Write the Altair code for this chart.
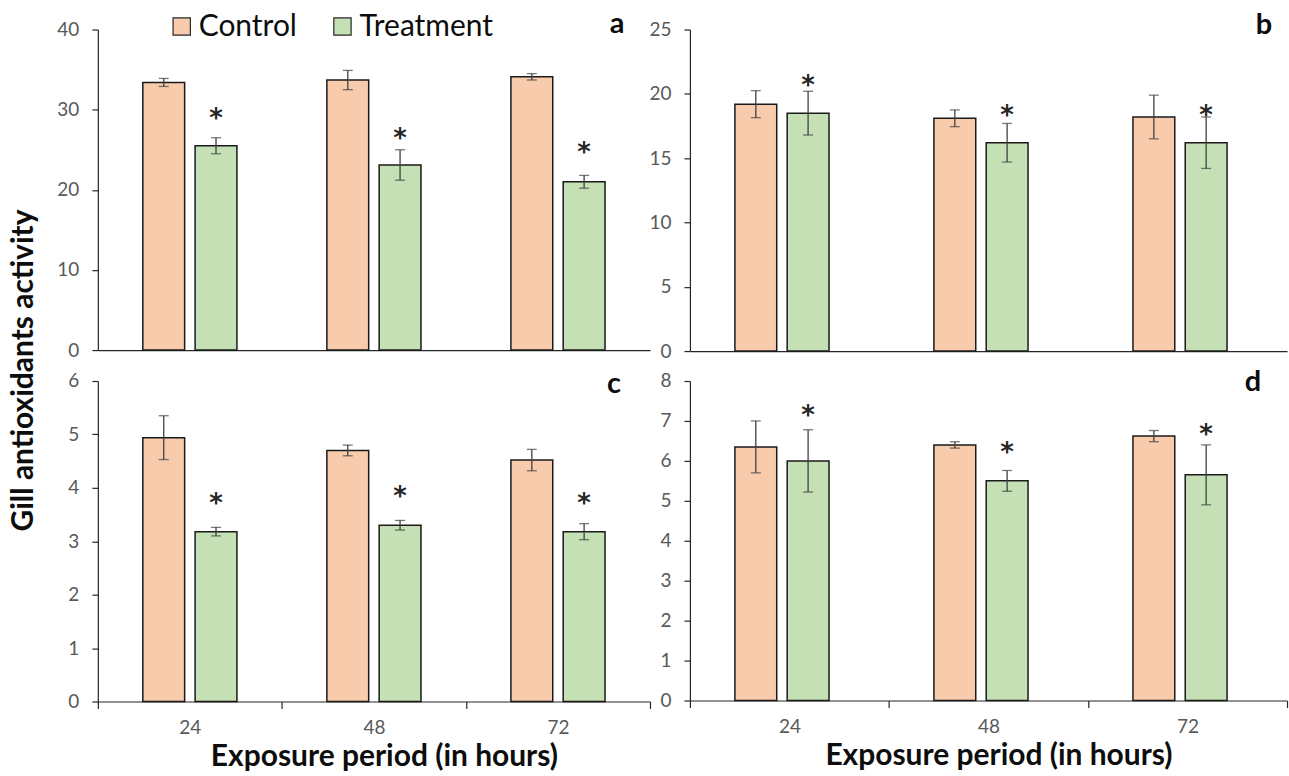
import altair as alt
import pandas as pd

hours = ["24", "48", "72"]
groups = ["Control", "Treatment"]
colors = ["#F8CBAD", "#C5E0B4"]

# panel a
a_ctrl = [33.4, 33.7, 34.1]
a_ctrl_sd = [0.5, 1.2, 0.4]
a_trt = [25.5, 23.1, 21.0]
a_trt_sd = [1.0, 1.9, 0.8]
a_star = [29.5, 27.0, 25.2]
# panel b
b_ctrl = [19.2, 18.1, 18.2]
b_ctrl_sd = [1.05, 0.65, 1.7]
b_trt = [18.5, 16.2, 16.2]
b_trt_sd = [1.7, 1.5, 2.0]
b_star = [21.0, 18.7, 18.7]
# panel c
c_ctrl = [4.94, 4.70, 4.52]
c_ctrl_sd = [0.41, 0.10, 0.20]
c_trt = [3.18, 3.30, 3.18]
c_trt_sd = [0.08, 0.09, 0.15]
c_star = [3.8, 3.92, 3.8]
# panel d
d_ctrl = [6.35, 6.40, 6.62]
d_ctrl_sd = [0.65, 0.08, 0.14]
d_trt = [6.00, 5.50, 5.65]
d_trt_sd = [0.78, 0.26, 0.75]
d_star = [7.26, 6.31, 6.78]

FONT = "Lato"


def panel(ctrl, ctrl_sd, trt, trt_sd, star, ymax, ystep, label, bottom,
          width, height, label_x, label_y, legend=False, ytitle=False):
    df = pd.DataFrame({
        "hour": hours * 2,
        "group": ["Control"] * 3 + ["Treatment"] * 3,
        "value": ctrl + trt,
        "sd": ctrl_sd + trt_sd,
    })
    df["lo"] = df["value"] - df["sd"]
    df["hi"] = df["value"] + df["sd"]
    sdf = pd.DataFrame({"hour": hours, "group": ["Treatment"] * 3, "y": star})

    xaxis_kw = dict(labels=bottom, ticks=bottom, tickBand="extent", tickSize=7,
                    labelAngle=0, labelPadding=10, domainColor="#262626",
                    domainWidth=1.2, tickColor="#262626", tickWidth=1.2,
                    labelFont=FONT, labelFontSize=19, labelColor="#595959")
    if bottom:
        xaxis_kw.update(title="Exposure period (in hours)", titleFontSize=30,
                        titlePadding=4, titleFont=FONT, titleFontWeight="bold",
                        titleColor="#0d0d0d", titleX=width / 2 + 10)
    else:
        xaxis_kw.update(title=None)
    x = alt.X("hour:N", sort=hours,
              scale=alt.Scale(paddingInner=0, paddingOuter=0),
              axis=alt.Axis(**xaxis_kw))
    xo = alt.XOffset("group:N", sort=groups,
                     scale=alt.Scale(domain=groups, paddingInner=0.2, paddingOuter=0.86))

    yaxis_kw = dict(values=list(range(0, ymax + 1, ystep)), format="d", grid=False,
                    tickSize=6, labelPadding=13, domainColor="#262626", domainWidth=1.2,
                    tickColor="#262626", tickWidth=1.2, labelFont=FONT,
                    labelFontSize=19, labelColor="#595959")
    if ytitle:
        yaxis_kw.update(title="Gill antioxidants activity", titleFontSize=30,
                        titleFont=FONT, titleFontWeight="bold", titleColor="#0d0d0d",
                        titleX=-74, titleY=341, titleBaseline="middle", titleAngle=-90)
    else:
        yaxis_kw.update(title=None)
    yscale = alt.Scale(domain=[0, ymax], nice=False)
    yaxis = alt.Axis(**yaxis_kw)

    def Y(field):
        return alt.Y(field, scale=yscale, axis=yaxis)

    if legend:
        color = alt.Color("group:N", sort=groups,
                          scale=alt.Scale(domain=groups, range=colors),
                          legend=alt.Legend(title=None, orient="none", legendX=69,
                                            legendY=-18, direction="horizontal",
                                            symbolType="square", symbolSize=300,
                                            symbolStrokeColor="#262626",
                                            symbolStrokeWidth=1.2,
                                            labelFontSize=30, labelFont=FONT,
                                            labelColor="#0d0d0d", labelOffset=2,
                                            columnPadding=30, padding=0))
    else:
        color = alt.Color("group:N", sort=groups,
                          scale=alt.Scale(domain=groups, range=colors), legend=None)

    base = alt.Chart(df)
    bars = base.mark_bar(stroke="#1a1a1a", strokeWidth=1.5).encode(
        x=x, xOffset=xo, y=Y("value:Q"), color=color)
    err = base.mark_rule(color="#404040", strokeWidth=1.3).encode(
        x=x, xOffset=xo, y=Y("lo:Q"), y2="hi:Q")
    cap_lo = base.mark_tick(color="#404040", thickness=1.3, size=10).encode(
        x=x, xOffset=xo, y=Y("lo:Q"))
    cap_hi = base.mark_tick(color="#404040", thickness=1.3, size=10).encode(
        x=x, xOffset=xo, y=Y("hi:Q"))
    stars = alt.Chart(sdf).mark_text(text="*", fontSize=26, fontWeight="bold",
                                     font="DejaVu Sans", color="#262626",
                                     baseline="alphabetic", dy=13).encode(
        x=x, xOffset=xo, y=Y("y:Q"))
    lab = alt.Chart(pd.DataFrame({"t": [label]})).mark_text(
        fontSize=29, fontWeight="bold", font=FONT, color="#0d0d0d",
        baseline="middle", align="center").encode(
        text="t:N", x=alt.value(label_x), y=alt.value(label_y))
    return alt.layer(bars, err, cap_lo, cap_hi, stars, lab).properties(
        width=width, height=height)


pa = panel(a_ctrl, a_ctrl_sd, a_trt, a_trt_sd, a_star, 40, 10, "a", False,
           553, 321, 520, -6, legend=True, ytitle=True)
pb = panel(b_ctrl, b_ctrl_sd, b_trt, b_trt_sd, b_star, 25, 5, "b", False,
           598, 322, 575, -5)
pc = panel(c_ctrl, c_ctrl_sd, c_trt, c_trt_sd, c_star, 6, 1, "c", True,
           553, 321, 517, 3)
pd_ = panel(d_ctrl, d_ctrl_sd, d_trt, d_trt_sd, d_star, 8, 1, "d", True,
            598, 320, 564, 1)

chart = alt.concat(pa, pb, pc, pd_, columns=2, spacing={"row": 30, "column": 40},
                   bounds="flush").resolve_scale(
    x="independent", y="independent", color="independent"
).resolve_legend(color="independent").configure_view(
    stroke="transparent").properties(
    padding={"left": 8, "top": 8, "right": 0, "bottom": 0},
    background="white")

chart.save("out.html", embed_options={"renderer": "svg", "actions": False})
